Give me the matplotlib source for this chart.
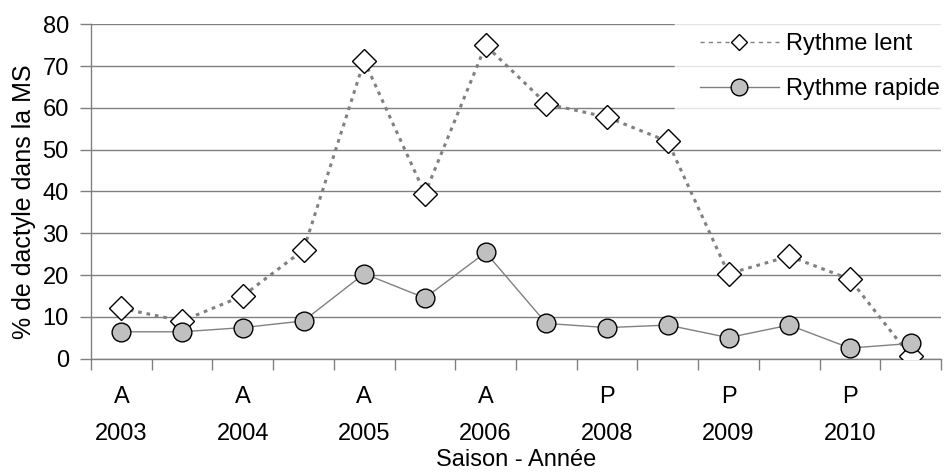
import matplotlib
matplotlib.use("Agg")
import matplotlib.pyplot as plt
import numpy as np

plt.rcParams['font.family'] = ['Liberation Sans', 'DejaVu Sans']

# Saison / année, une étiquette sur deux points
saisons = ["A", "", "A", "", "A", "", "A", "", "P", "", "P", "", "P", ""]
annees = ["2003", "", "2004", "", "2005", "", "2006", "", "2008", "", "2009", "", "2010", ""]

rythme_lent = [12, 9, 15, 26, 71.3, 39.5, 75, 61, 57.8, 52, 20.3, 24.5, 19, 0.5]
rythme_rapide = [6.4, 6.4, 7.4, 9, 20.3, 14.5, 25.4, 8.4, 7.4, 8, 5, 8, 2.5, 3.6]

GRIS = '#808080'
FS = 17

fig = plt.figure(figsize=(9.47, 4.73), dpi=100)
ax = fig.add_axes([91 / 947, 1 - 358.5 / 473, 850 / 947, 334 / 473])

x = np.arange(len(rythme_lent))

ax.plot(x, rythme_lent, color=GRIS, lw=2.2, linestyle=(0, (1.2, 1.6)),
        marker='D', markersize=12, markerfacecolor='white',
        markeredgecolor='black', markeredgewidth=1, label='Rythme lent', zorder=3)
ax.plot(x, rythme_rapide, color=GRIS, lw=1,
        marker='o', markersize=13.5, markerfacecolor='#c0c0c0',
        markeredgecolor='black', markeredgewidth=1, label='Rythme rapide', zorder=4)

ax.set_xlim(-0.5, len(x) - 0.5)
ax.set_ylim(0, 80)
ax.set_yticks(np.arange(0, 81, 10))
ax.yaxis.grid(True, color=GRIS, lw=1)
ax.set_axisbelow(True)

# étiquettes centrées, traits de graduation entre les catégories
ax.set_xticks(x)
ax.set_xticklabels([f"{s}\n{a}" if s else "" for s, a in zip(saisons, annees)],
                   linespacing=1.85)
ax.set_xticks(np.arange(-0.5, len(x), 1), minor=True)
ax.tick_params(axis='x', which='major', length=0, pad=20, labelsize=FS)
ax.tick_params(axis='x', which='minor', length=8, width=1, color=GRIS, direction='out')
ax.tick_params(axis='y', length=8, width=1, color=GRIS, pad=8, labelsize=FS)

for s in ['top', 'right']:
    ax.spines[s].set_visible(False)
for s in ['left', 'bottom']:
    ax.spines[s].set_color(GRIS)
    ax.spines[s].set_linewidth(1)

ax.set_xlabel("Saison - Année", fontsize=FS, labelpad=3)
ax.set_ylabel("% de dactyle dans la MS", fontsize=18)
ax.yaxis.set_label_coords(-0.065, 0.47)

leg = ax.legend(loc='upper left', bbox_to_anchor=(675 / 947, 1 - 8 / 473),
                bbox_transform=fig.transFigure, fontsize=FS,
                handlelength=3.35, handletextpad=0.3, labelspacing=1.0,
                borderpad=1.05, borderaxespad=0, frameon=True, fancybox=False)
leg.get_frame().set_facecolor('white')
leg.get_frame().set_edgecolor('white')
lent_h, rapide_h = leg.get_lines()
lent_h.set_linewidth(1)
lent_h.set_linestyle((0, (3, 3)))
lent_h.set_markersize(8.5)
rapide_h.set_markersize(12)

fig.savefig("out.png", dpi=100)
